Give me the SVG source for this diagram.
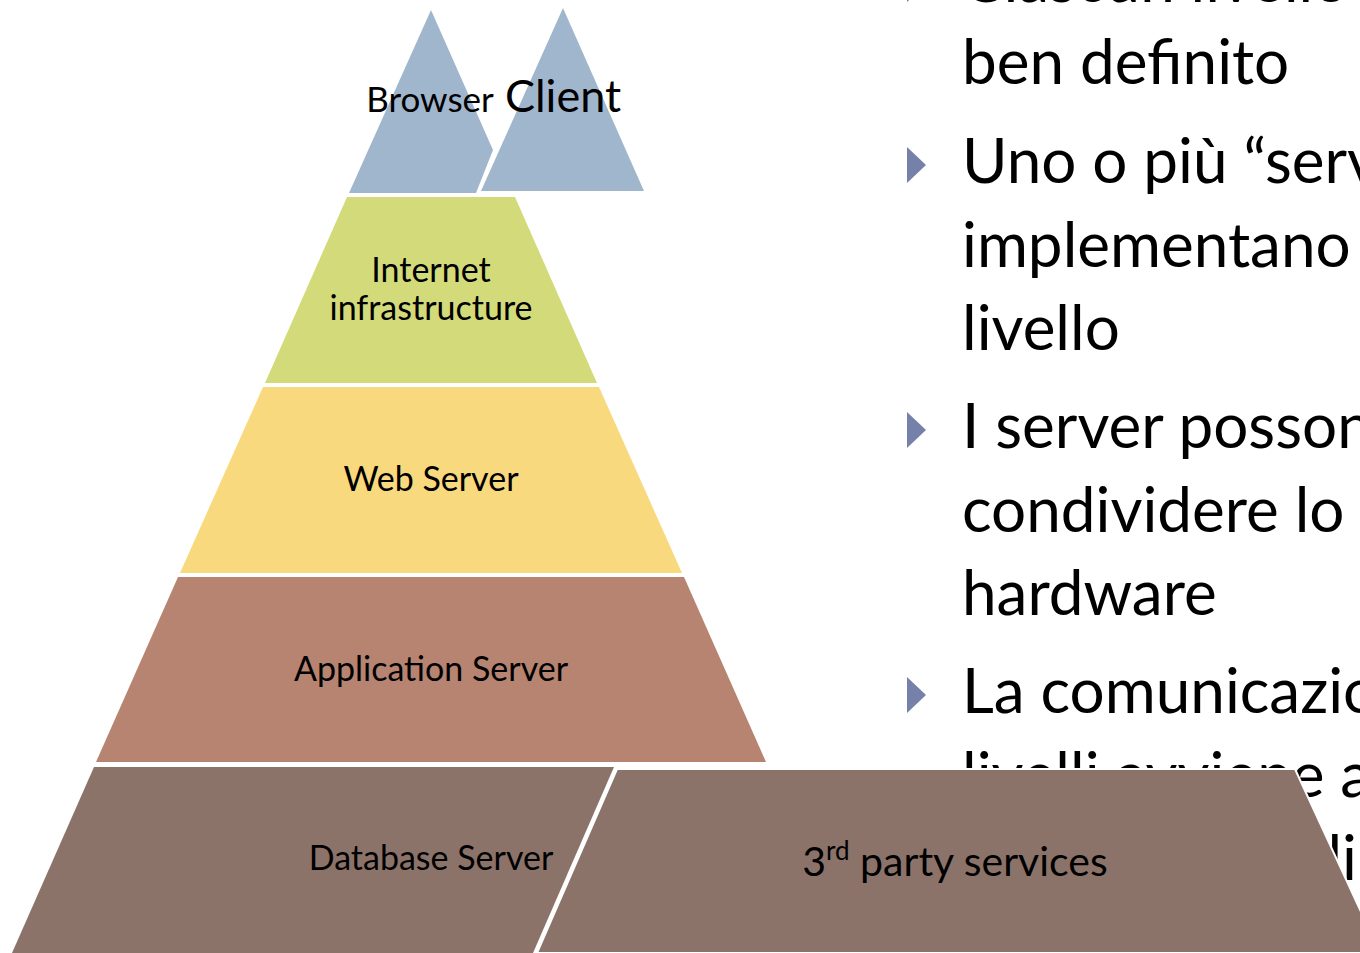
<svg xmlns="http://www.w3.org/2000/svg" width="1360" height="953" viewBox="0 0 1360 953">
  <style>
    .body { font-family: Lato, "Open Sans", "Liberation Sans", sans-serif; font-size: 62px; fill: #000; }
    .lbl { font-family: Lato, "Open Sans", "Liberation Sans", sans-serif; font-size: 34px; fill: #000; text-anchor: middle; }
    .bullet { fill: #7581A8; }
    .tier-top { fill: #A0B6CD; }
    .tier-net { fill: #D3DA7A; }
    .tier-web { fill: #F9D97D; }
    .tier-app { fill: #B68471; }
    .tier-db { fill: #8C736A; }
  </style>

  <rect width="1360" height="953" fill="#fff"/>

  <!-- bulleted text on the right -->
  <g id="text-panel">
    <polygon class="bullet" points="907,-34 926,-16 907,2"/>
    <text class="body" x="962" y="2">Ciascun livello è</text>
    <text class="body" x="962" y="84">ben definito</text>

    <polygon class="bullet" points="907,147 926,165 907,183"/>
    <text class="body" x="962" y="183">Uno o più “server”</text>
    <text class="body" x="962" y="267">implementano</text>
    <text class="body" x="962" y="350">livello</text>

    <polygon class="bullet" points="907,412 926,430 907,448"/>
    <text class="body" x="962" y="448">I server possono</text>
    <text class="body" x="962" y="532">condividere lo stesso</text>
    <text class="body" x="962" y="615">hardware</text>

    <polygon class="bullet" points="907,677 926,695 907,713"/>
    <text class="body" x="962" y="713">La comunicazione tra</text>
    <text class="body" x="962" y="797">livelli avviene attraverso</text>
    <text class="body" x="1357" y="880" text-anchor="end">protocolli</text>
  </g>

  <!-- layered pyramid -->
  <g id="browser">
    <path class="tier-top" d="M431,10 L493,150 L476,193 L349,193 Z"/>
    <text class="lbl" x="430" y="112" style="font-size:35px">Browser</text>
  </g>
  <g id="client">
    <path class="tier-top" d="M563,8 L644,191 L481,191 Z"/>
    <text class="lbl" x="563" y="112" style="font-size:45px">Client</text>
  </g>
  <g id="internet">
    <path class="tier-net" d="M347,197 L515,197 L597,383 L265,383 Z"/>
    <text class="lbl" x="431" y="282">Internet</text>
    <text class="lbl" x="431" y="320">infrastructure</text>
  </g>
  <g id="web-server">
    <path class="tier-web" d="M263,387 L599,387 L682,573 L180,573 Z"/>
    <text class="lbl" x="431" y="491">Web Server</text>
  </g>
  <g id="application-server">
    <path class="tier-app" d="M178,577 L684,577 L766,762 L96,762 Z"/>
    <text class="lbl" x="431" y="681">Application Server</text>
  </g>
  <g id="database-server">
    <path class="tier-db" d="M94,767 L614,767 L533,953 L12,953 Z"/>
    <text class="lbl" x="431" y="870">Database Server</text>
  </g>
  <g id="third-party">
    <path class="tier-db" d="M617,769 L1295,769 L1380,953 L537,953 Z" stroke="#fff" stroke-width="2"/>
    <text class="lbl" x="955" y="876" style="font-size:41px">3<tspan style="font-size:26px" dy="-16">rd</tspan><tspan dy="16"> party services</tspan></text>
  </g>

  <g id="connectors"/>
</svg>
